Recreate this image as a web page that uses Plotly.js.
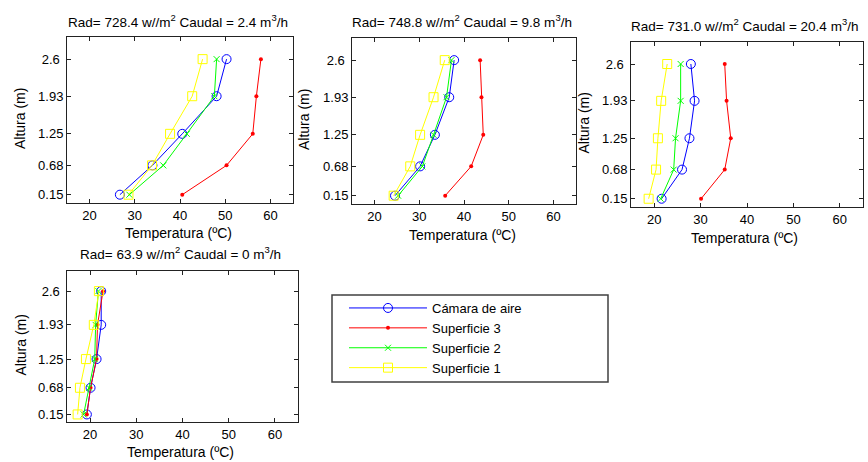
<!DOCTYPE html>
<html>
<head>
<meta charset="utf-8">
<script src="https://cdn.plot.ly/plotly-3.0.1.min.js"></script>
<style>html,body{margin:0;padding:0;background:#fff;}#chart{width:868px;height:462px;}</style>
</head>
<body>
<div id="chart"></div>
<script>
// ---- data ----
var heights = [0.15, 0.68, 1.25, 1.93, 2.6];
var heightLabels = ['0.15', '0.68', '1.25', '1.93', '2.6\u00a0'];
var tempTicks = [20, 30, 40, 50, 60];
var seriesNames = ['Cámara de aire', 'Superficie 3', 'Superficie 2', 'Superficie 1'];
var panelTitles = [
  'Rad= 728.4 w//m<sup>2</sup> Caudal = 2.4 m<sup>3</sup>/h',
  'Rad= 748.8 w//m<sup>2</sup> Caudal = 9.8 m<sup>3</sup>/h',
  'Rad= 731.0 w//m<sup>2</sup> Caudal = 20.4 m<sup>3</sup>/h',
  'Rad= 63.9 w//m<sup>2</sup> Caudal = 0 m<sup>3</sup>/h'
];
var p1_camara = [26.7, 33.9, 40.5, 48.1, 50.3];
var p1_sup3   = [40.5, 50.3, 56.1, 56.9, 57.9];
var p1_sup2   = [28.8, 36.3, 41.5, 47.6, 48.1];
var p1_sup1   = [28.6, 33.8, 37.8, 42.7, 45.0];
var p2_camara = [24.6, 30.2, 33.5, 36.7, 37.8];
var p2_sup3   = [35.8, 41.6, 44.3, 43.9, 43.6];
var p2_sup2   = [25.3, 30.7, 33.2, 36.1, 37.2];
var p2_sup1   = [24.3, 28.0, 30.2, 33.2, 35.7];
var p3_camara = [21.6, 26.0, 27.6, 28.7, 27.9];
var p3_sup3   = [30.1, 35.2, 36.5, 35.6, 35.2];
var p3_sup2   = [21.4, 24.2, 24.6, 25.7, 25.7];
var p3_sup1   = [18.8, 20.4, 20.8, 21.5, 22.8];
var p4_camara = [19.3, 20.1, 21.4, 22.4, 22.4];
var p4_sup3   = [19.3, 20.1, 21.4, 21.6, 22.8];
var p4_sup2   = [18.6, 19.8, 21.0, 21.2, 21.8];
var p4_sup1   = [17.3, 17.8, 19.1, 20.8, 21.9];

var panels = [
  [p1_camara, p1_sup3, p1_sup2, p1_sup1],
  [p2_camara, p2_sup3, p2_sup2, p2_sup1],
  [p3_camara, p3_sup3, p3_sup2, p3_sup1],
  [p4_camara, p4_sup3, p4_sup2, p4_sup1]
];

// ---- styles ----
var styles = [
  {color: '#0000ff', marker: {symbol: 'circle-open', size: 9, color: '#0000ff', line: {width: 1, color: '#0000ff'}}},
  {color: '#ff0000', marker: {symbol: 'circle', size: 4, color: '#ff0000', line: {width: 0}}},
  {color: '#00ff00', marker: {symbol: 'x-thin-open', size: 6, color: '#00ff00', line: {width: 1, color: '#00ff00'}}},
  {color: '#ffff00', marker: {symbol: 'square-open', size: 9, color: '#ffff00', line: {width: 1, color: '#ffff00'}}}
];

var W = 868, H = 462;
// axes boxes in pixels: [left, right, top, bottom]
var boxes = [
  [67, 293, 37, 203],
  [352, 576, 38, 204],
  [631, 863, 42, 207],
  [67, 298, 271, 422]
];

var FONT = 'Liberation Sans, Arial, sans-serif';
var traces = [];
var layout = {
  width: W, height: H,
  margin: {l: 0, r: 0, t: 0, b: 0},
  paper_bgcolor: '#ffffff', plot_bgcolor: '#ffffff',
  font: {family: FONT, size: 13, color: '#000000'},
  showlegend: true,
  legend: {
    x: 344 / W, y: 1 - 293 / H, xanchor: 'left', yanchor: 'top',
    bgcolor: 'rgba(0,0,0,0)', borderwidth: 0,
    font: {family: FONT, size: 13, color: '#000'},
    itemwidth: 78, traceorder: 'grouped', tracegroupgap: 0
  },
  annotations: [],
  shapes: [{
    type: 'rect', xref: 'paper', yref: 'paper',
    x0: 332 / W, x1: 608 / W, y0: 1 - 382 / H, y1: 1 - 295 / H,
    line: {color: '#404040', width: 1.5}, fillcolor: 'rgba(0,0,0,0)'
  }]
};

var titleY = [21, 21, 25, 253];
var xlabY = [233, 235, 238, 452];
var ylabX = [20, 304, 583, 20];

for (var p = 0; p < 4; p++) {
  var sfx = p === 0 ? '' : String(p + 1);
  var b = boxes[p];
  layout['xaxis' + sfx] = {
    domain: [b[0] / W, b[1] / W], anchor: 'y' + sfx,
    range: [15, 65], tickvals: tempTicks, ticktext: tempTicks.map(String),
    ticks: 'inside', ticklen: 4, tickcolor: '#222', showline: true, linecolor: '#222', linewidth: 1,
    mirror: 'ticks', showgrid: false, zeroline: false, fixedrange: true,
    tickfont: {family: FONT, size: 13, color: '#000'}
  };
  layout['yaxis' + sfx] = {
    domain: [1 - b[3] / H, 1 - b[2] / H], anchor: 'x' + sfx,
    range: [0, 3], tickvals: heights, ticktext: heightLabels,
    ticks: 'inside', ticklen: 4, tickcolor: '#222', showline: true, linecolor: '#222', linewidth: 1,
    mirror: 'ticks', showgrid: false, zeroline: false, fixedrange: true,
    tickfont: {family: FONT, size: 13, color: '#000'}
  };
  for (var s = 0; s < 4; s++) {
    traces.push({
      type: 'scatter', mode: 'lines+markers',
      x: panels[p][s], y: heights,
      xaxis: 'x' + sfx, yaxis: 'y' + sfx,
      name: seriesNames[s], legendgroup: 'g' + s,
      showlegend: p === 0,
      line: {color: styles[s].color, width: 1},
      marker: styles[s].marker,
      hoverinfo: 'x+y+name'
    });
  }
  var cx = (b[0] + b[1]) / 2 / W;
  layout.annotations.push({
    text: panelTitles[p], xref: 'paper', yref: 'paper', x: cx - 2 / W, y: 1 - titleY[p] / H,
    xanchor: 'center', yanchor: 'middle', showarrow: false,
    font: {family: FONT, size: 13.5, color: '#000'}
  });
  layout.annotations.push({
    text: 'Temperatura (ºC)', xref: 'paper', yref: 'paper', x: cx - 2 / W, y: 1 - xlabY[p] / H,
    xanchor: 'center', yanchor: 'middle', showarrow: false,
    font: {family: FONT, size: 14, color: '#000'}
  });
  layout.annotations.push({
    text: 'Altura (m)', xref: 'paper', yref: 'paper', x: ylabX[p] / W, y: 1 - ((b[2] + b[3]) / 2 - 1) / H,
    xanchor: 'center', yanchor: 'middle', showarrow: false, textangle: -90,
    font: {family: FONT, size: 14, color: '#000'}
  });
}

Plotly.newPlot('chart', traces, layout, {displayModeBar: false, staticPlot: true});
</script>
</body>
</html>
